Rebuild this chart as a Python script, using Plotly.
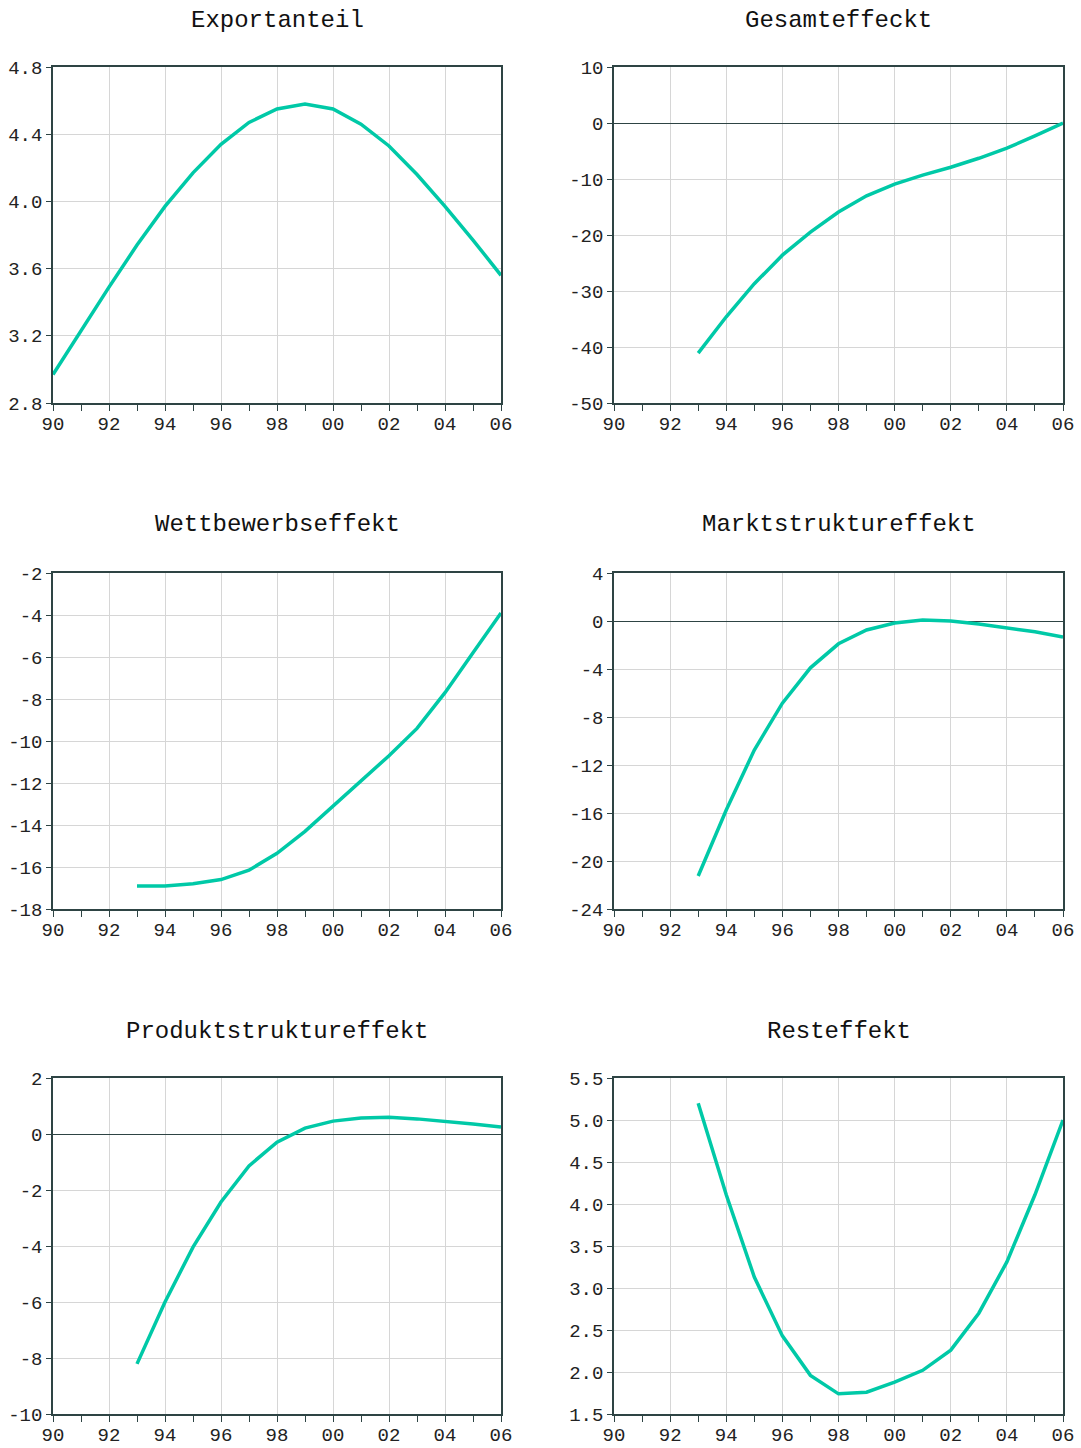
import plotly.graph_objects as go

# ---- data ----
years_full = list(range(1990, 2007))
years_short = list(range(1993, 2007))

exportanteil = [2.97, 3.23, 3.49, 3.74, 3.97, 4.17, 4.34, 4.47, 4.55, 4.58,
                4.55, 4.46, 4.33, 4.16, 3.97, 3.77, 3.56]
gesamteffekt = [-41.1, -34.6, -28.7, -23.6, -19.5, -15.9, -13.0, -10.9, -9.3,
                -7.9, -6.3, -4.5, -2.3, 0.0]
wettbewerbseffekt = [-16.9, -16.9, -16.8, -16.6, -16.15, -15.35, -14.3, -13.1,
                     -11.9, -10.7, -9.4, -7.7, -5.8, -3.9]
marktstruktureffekt = [-21.25, -15.75, -10.75, -6.85, -3.9, -1.9, -0.75, -0.17,
                       0.08, 0.0, -0.25, -0.6, -0.9, -1.33]
produktstruktureffekt = [-8.21, -6.0, -4.04, -2.43, -1.14, -0.29, 0.21, 0.46,
                         0.57, 0.6, 0.54, 0.46, 0.36, 0.25]
resteffekt = [5.2, 4.11, 3.13, 2.43, 1.96, 1.74, 1.76, 1.88, 2.02, 2.26, 2.70,
              3.31, 4.11, 5.0]

titles = ["Exportanteil", "Gesamteffeckt", "Wettbewerbseffekt",
          "Marktstruktureffekt", "Produktstruktureffekt", "Resteffekt"]

x_tick_vals = [1990, 1992, 1994, 1996, 1998, 2000, 2002, 2004, 2006]
x_tick_text = ["90", "92", "94", "96", "98", "00", "02", "04", "06"]

y_ticks = [
    ([2.8, 3.2, 3.6, 4.0, 4.4, 4.8], ["2.8", "3.2", "3.6", "4.0", "4.4", "4.8"]),
    ([-50, -40, -30, -20, -10, 0, 10], ["-50", "-40", "-30", "-20", "-10", "0", "10"]),
    ([-18, -16, -14, -12, -10, -8, -6, -4, -2],
     ["-18", "-16", "-14", "-12", "-10", "-8", "-6", "-4", "-2"]),
    ([-24, -20, -16, -12, -8, -4, 0, 4],
     ["-24", "-20", "-16", "-12", "-8", "-4", "0", "4"]),
    ([-10, -8, -6, -4, -2, 0, 2], ["-10", "-8", "-6", "-4", "-2", "0", "2"]),
    ([1.5, 2.0, 2.5, 3.0, 3.5, 4.0, 4.5, 5.0, 5.5],
     ["1.5", "2.0", "2.5", "3.0", "3.5", "4.0", "4.5", "5.0", "5.5"]),
]

series = [
    (years_full, exportanteil),
    (years_short, gesamteffekt),
    (years_short, wettbewerbseffekt),
    (years_short, marktstruktureffekt),
    (years_short, produktstruktureffekt),
    (years_short, resteffekt),
]

# ---- layout geometry (pixels) ----
W, H = 1081, 1448
col_x = [(53, 501), (614, 1063)]
row_y = [(67, 403), (573, 909), (1078, 1414)]
title_y = [20, 525, 1031]

LINE = "#00c9a7"
FRAME = "#2e4444"
GRID = "#d6d6d6"
FONT = "Liberation Mono"

fig = go.Figure()
layout = dict(
    width=W, height=H, margin=dict(l=0, r=0, t=0, b=0, autoexpand=False),
    paper_bgcolor="white", plot_bgcolor="white", showlegend=False,
    annotations=[],
)

for i in range(6):
    r, c = divmod(i, 2)
    xs, ys = series[i]
    n = i + 1
    xa = "x" if n == 1 else f"x{n}"
    ya = "y" if n == 1 else f"y{n}"
    fig.add_trace(go.Scatter(x=xs, y=ys, mode="lines",
                             line=dict(color=LINE, width=3.5),
                             xaxis=xa, yaxis=ya, hoverinfo="skip"))
    x0, x1 = col_x[c]
    y0, y1 = row_y[r]
    yv, yt = y_ticks[i]
    xkey = "xaxis" if n == 1 else f"xaxis{n}"
    ykey = "yaxis" if n == 1 else f"yaxis{n}"
    layout[xkey] = dict(
        domain=[x0 / W, x1 / W], anchor=ya, range=[1990, 2006],
        automargin=False,
        tickmode="array", tickvals=x_tick_vals, ticktext=x_tick_text,
        ticks="outside", ticklen=6, tickcolor=FRAME, tickwidth=1,
        ticklabelstandoff=-4,
        showgrid=True, gridcolor=GRID, gridwidth=1,
        showline=True, linecolor=FRAME, linewidth=1.5, mirror=True,
        zeroline=False,
        tickfont=dict(family=FONT, size=19, color="#222222"),
        minor=dict(tickmode="linear", tick0=1990, dtick=1, ticks="outside",
                   ticklen=6, tickcolor=FRAME, showgrid=False),
    )
    layout[ykey] = dict(
        domain=[1 - y1 / H, 1 - y0 / H], anchor=xa,
        range=[yv[0], yv[-1]], automargin=False,
        tickmode="array", tickvals=yv, ticktext=yt,
        ticks="outside", ticklen=5, tickcolor=FRAME, tickwidth=1,
        showgrid=True, gridcolor=GRID, gridwidth=1,
        showline=True, linecolor=FRAME, linewidth=1.5, mirror=True,
        zeroline=True, zerolinecolor=FRAME, zerolinewidth=1,
        tickfont=dict(family=FONT, size=19, color="#222222"),
    )
    layout["annotations"].append(dict(
        text=titles[i], xref="paper", yref="paper",
        x=(x0 + x1) / 2 / W, y=1 - title_y[r] / H,
        xanchor="center", yanchor="middle", showarrow=False,
        font=dict(family=FONT, size=24, color="#111111"),
    ))

fig.update_layout(**layout)
fig.write_html("out.html")
